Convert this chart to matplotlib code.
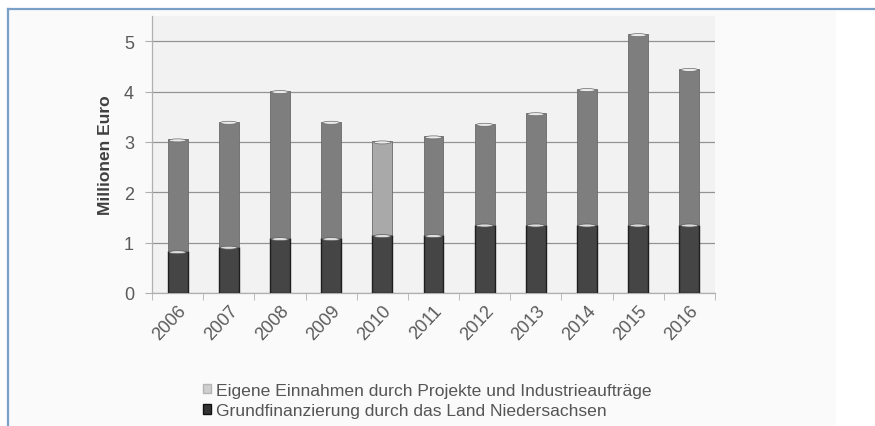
import matplotlib
matplotlib.use("Agg")
import matplotlib.pyplot as plt
import numpy as np
from matplotlib.patches import Patch, Ellipse, Rectangle
from matplotlib.lines import Line2D

years = ["2006", "2007", "2008", "2009", "2010", "2011", "2012", "2013", "2014", "2015", "2016"]
grundfinanzierung = [0.83, 0.92, 1.09, 1.09, 1.15, 1.15, 1.36, 1.36, 1.36, 1.36, 1.36]
gesamt = [3.05, 3.40, 4.01, 3.40, 3.01, 3.11, 3.36, 3.57, 4.05, 5.14, 4.45]
eigene = [g - b for g, b in zip(gesamt, grundfinanzierung)]
y_ticks = [0, 1, 2, 3, 4, 5]
label_eigene = "Eigene Einnahmen durch Projekte und Industrieaufträge"
label_grund = "Grundfinanzierung durch das Land Niedersachsen"
y_label = "Millionen Euro"

plt.rcParams['font.family'] = ['Liberation Sans', 'DejaVu Sans']

W, H = 875, 427
fig = plt.figure(figsize=(W / 100, H / 100), dpi=100)
fig.patch.set_facecolor('white')

# light panel and blue frame
fig.add_artist(Rectangle((9 / W, 0), (836 - 9) / W, 1 - 10 / H, transform=fig.transFigure,
                         facecolor='#fafafa', edgecolor='none', zorder=-5))
fig.add_artist(Line2D([8 / W, 1], [1 - 9.5 / H, 1 - 9.5 / H], color='#7aa0c8', lw=1.6, zorder=-4))
fig.add_artist(Line2D([8 / W, 8 / W], [0, 1 - 9.5 / H], color='#7aa0c8', lw=1.6, zorder=-4))

ax = fig.add_axes([152 / W, 1 - 294 / H, (715 - 152) / W, (294 - 17) / H])
ax.set_zorder(2)
ax.set_facecolor('#f2f2f2')

x = np.arange(len(years))
bw = 0.39
top_colors = ['#7e7e7e'] * len(years)
top_colors[years.index("2010")] = '#a9a9a9'

ax.bar(x, grundfinanzierung, width=bw, color='#454545', edgecolor='#1e1e1e', linewidth=1.0, zorder=3)
ax.bar(x, eigene, bottom=grundfinanzierung, width=bw, color=top_colors, edgecolor='#6a6a6a',
       linewidth=0.6, zorder=3)

for xi, b, t in zip(x, grundfinanzierung, gesamt):
    ax.add_patch(Ellipse((xi, b - 0.02), bw * 0.85, 0.06, facecolor='#dcdcdc', edgecolor='#5a5a5a',
                         linewidth=0.5, zorder=4))
    ax.add_patch(Ellipse((xi, t - 0.02), bw * 0.85, 0.06, facecolor='#ebebeb', edgecolor='#6a6a6a',
                         linewidth=0.5, zorder=4))

ax.set_xlim(-0.5, len(years) - 0.5)
ax.set_ylim(0, 5.5)
ax.set_yticks(y_ticks)
ax.set_yticklabels([str(v) for v in y_ticks])
ax.yaxis.grid(True, color='#939393', linewidth=0.9, zorder=1)
ax.set_axisbelow(True)

ax.set_xticks(x)
ax.set_xticklabels(years, rotation=47, ha='right', va='top', rotation_mode='anchor')
ax.set_xticks(np.arange(len(years) + 1) - 0.5, minor=True)
ax.tick_params(axis='x', which='major', length=0, pad=6, labelsize=13, labelcolor='#5a5a5a')
ax.tick_params(axis='x', which='minor', length=5, color='#b0b0b0')
ax.tick_params(axis='y', length=5, color='#b0b0b0', labelsize=13, labelcolor='#5a5a5a', pad=8)

for s in ['top', 'right']:
    ax.spines[s].set_visible(False)
for s in ['left', 'bottom']:
    ax.spines[s].set_color('#b0b0b0')
    ax.spines[s].set_linewidth(0.9)

ax.set_ylabel(y_label, fontsize=12.5, fontweight='bold', color='#404040', labelpad=8)

handles = [Patch(facecolor='#cfcfcf', edgecolor='#b5b5b5', label=label_eigene),
           Patch(facecolor='#333333', edgecolor='#111111', label=label_grund)]
fig.legend(handles=handles, loc='upper left', bbox_to_anchor=(203 / W, 1 - 384 / H),
           frameon=False, fontsize=12.6, labelcolor='#555555', handlelength=0.45, handleheight=0.45,
           handletextpad=0.3, labelspacing=0.3, borderaxespad=0, borderpad=0)

fig.savefig('out.png', dpi=100, facecolor=fig.get_facecolor())
